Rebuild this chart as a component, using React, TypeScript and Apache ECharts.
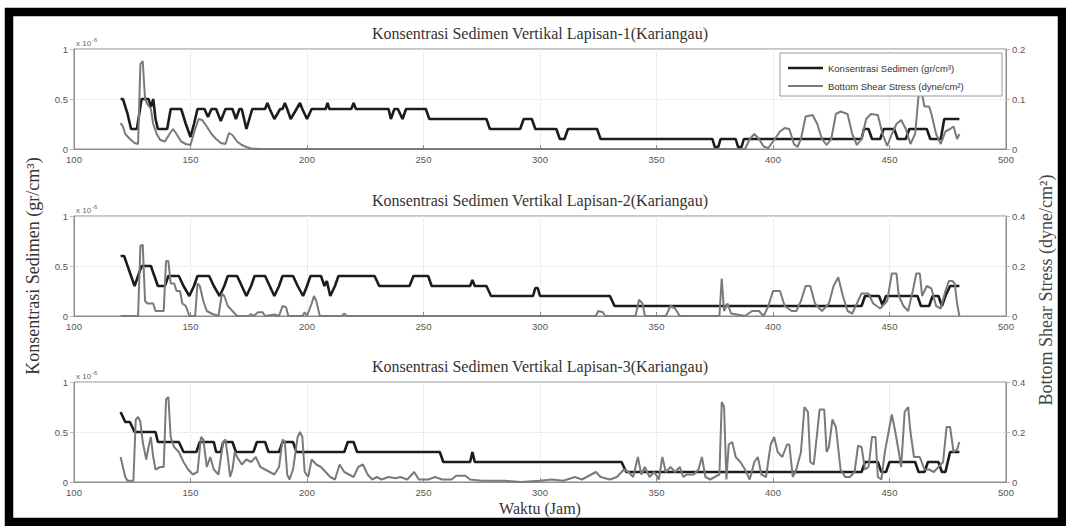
import React, { useEffect, useRef } from "react";
import * as echarts from "echarts";

const TITLES = [
  "Konsentrasi Sedimen Vertikal Lapisan-1(Kariangau)",
  "Konsentrasi Sedimen Vertikal Lapisan-2(Kariangau)",
  "Konsentrasi Sedimen Vertikal Lapisan-3(Kariangau)",
];
const SERIES_NAMES = ["Konsentrasi Sedimen (gr/cm³)", "Bottom Shear Stress (dyne/cm²)"];
const RIGHT_MAX = [0.2, 0.4, 0.4];
const RIGHT_STEP = [0.1, 0.2, 0.2];

// Concentration (x 10^-6 gr/cm3) – [hour, value]
const conc1 = [
  [120, 0.5], [121, 0.5], [123, 0.35], [124.5, 0.2], [127, 0.2], [129, 0.5], [132, 0.5], [133, 0.42], [134, 0.5],
  [135, 0.3], [136, 0.2], [140, 0.2], [141.5, 0.4], [146, 0.4], [148, 0.25], [150, 0.12], [151.5, 0.25], [153, 0.4],
  [156, 0.4], [157.5, 0.32], [159, 0.4], [161, 0.4], [163, 0.28], [165, 0.4], [168, 0.4], [169.5, 0.3], [171, 0.4],
  [172, 0.4], [174, 0.2], [176.5, 0.4], [182, 0.4], [183, 0.46], [184, 0.4], [186, 0.3], [188.5, 0.4], [189.5, 0.4],
  [190.5, 0.46], [191.5, 0.4], [193, 0.3], [195.5, 0.4], [197, 0.46], [198, 0.4], [200, 0.3], [202, 0.4], [208, 0.4],
  [208.8, 0.46], [209.6, 0.4], [219, 0.4], [220, 0.46], [221, 0.4], [235, 0.4], [236, 0.3], [237.5, 0.4], [239, 0.4],
  [241, 0.3], [242.5, 0.4], [251, 0.4], [252.5, 0.3], [277, 0.3], [278.5, 0.2], [291.5, 0.2], [293, 0.3], [296.5, 0.3],
  [298, 0.2], [307, 0.2], [308.5, 0.1], [310.5, 0.1], [312, 0.2], [324.5, 0.2], [326, 0.1], [374, 0.1], [375, 0.02],
  [376.5, 0.02], [377.5, 0.1], [384, 0.1], [385, 0.02], [386.5, 0.02], [387.5, 0.1], [438, 0.1], [439, 0.2], [441, 0.2],
  [442.5, 0.1], [446, 0.1], [447.5, 0.2], [452, 0.2], [453.5, 0.1], [457, 0.1], [458.5, 0.2], [466, 0.2], [467.5, 0.1],
  [472, 0.1], [473.5, 0.3], [480, 0.3],
];
const shear1 = [
  [120, 0.052], [121, 0.045], [122, 0.03], [124, 0.02], [126, 0.012], [127.5, 0.01], [128.5, 0.17], [129.5, 0.176],
  [130.5, 0.1], [131.5, 0.09], [133, 0.08], [134, 0.05], [135.5, 0.03], [137, 0.018], [139, 0.015], [141, 0.03],
  [142.5, 0.04], [144, 0.03], [146, 0.015], [148, 0.01], [150, 0.008], [152, 0.04], [153.5, 0.06], [155, 0.058],
  [157, 0.045], [159, 0.03], [161, 0.02], [163, 0.012], [165, 0.01], [166.5, 0.032], [168, 0.028], [170, 0.015],
  [172, 0.008], [174, 0.004], [176, 0.001], [180, 0], [388, 0], [390, 0.02], [392, 0.03], [394, 0.02], [396, 0.005],
  [398, 0.002], [400, 0.015], [403, 0.035], [405, 0.042], [407, 0.04], [409, 0.01], [410.5, 0.004], [412, 0.02],
  [414, 0.065], [417, 0.068], [419, 0.05], [421, 0.02], [423, 0.008], [425, 0.02], [427, 0.07], [429, 0.075],
  [432, 0.07], [434, 0.03], [436, 0.008], [438, 0.02], [440, 0.06], [442, 0.07], [445, 0.068], [447, 0.03],
  [449, 0.006], [451, 0.03], [453, 0.05], [455, 0.058], [457, 0.04], [459, 0.01], [461, 0.03], [462.5, 0.108],
  [464, 0.108], [465, 0.085], [467, 0.085], [468, 0.07], [470, 0.03], [472, 0.01], [474, 0.035], [476, 0.04],
  [477.5, 0.045], [479, 0.02], [480, 0.03],
];
const conc2 = [
  [120, 0.6], [121.5, 0.6], [123, 0.5], [124.5, 0.4], [126, 0.3], [127.5, 0.4], [129, 0.5], [133, 0.5], [134.5, 0.4],
  [136, 0.3], [139, 0.3], [140.5, 0.4], [145, 0.4], [147, 0.3], [149.5, 0.2], [151.5, 0.3], [153, 0.4], [158, 0.4],
  [160, 0.3], [162.5, 0.2], [164.5, 0.3], [166, 0.4], [170, 0.4], [172, 0.3], [174, 0.2], [176, 0.3], [177.5, 0.4],
  [182, 0.4], [184, 0.3], [186, 0.2], [188, 0.3], [189.5, 0.4], [194, 0.4], [196, 0.3], [198.3, 0.2], [200, 0.3],
  [201.5, 0.4], [206, 0.4], [207.5, 0.3], [208.5, 0.35], [210, 0.2], [212, 0.3], [213.5, 0.4], [229, 0.4], [231, 0.3],
  [244, 0.3], [245.7, 0.4], [252, 0.4], [253.5, 0.3], [270, 0.3], [271, 0.36], [272, 0.3], [277, 0.3], [279, 0.2],
  [297, 0.2], [298, 0.28], [299, 0.28], [300, 0.2], [330, 0.2], [332, 0.1], [438, 0.1], [439.5, 0.2], [445.5, 0.2],
  [447, 0.11], [448.5, 0.2], [462, 0.2], [463.5, 0.1], [467, 0.1], [468.5, 0.2], [471, 0.2], [472.5, 0.1], [474, 0.2],
  [476, 0.3], [480, 0.3],
];
const shear2 = [
  [120, 0], [127.5, 0], [128.5, 0.28], [129.5, 0.285], [130.5, 0.06], [131.5, 0.05], [134, 0.05], [135, 0.02],
  [138.5, 0.02], [139.5, 0.22], [140.5, 0.22], [141.5, 0.13], [143, 0.13], [144, 0.1], [145.5, 0.1], [146.5, 0.05],
  [148, 0.04], [149.5, 0], [152, 0], [153, 0.13], [154, 0.12], [155.5, 0.06], [157, 0.02], [159, 0.01], [162, 0],
  [163.5, 0.09], [164.5, 0.08], [166, 0.04], [168, 0.02], [170, 0], [175, 0], [176, 0.008], [177, 0], [179, 0.015],
  [181, 0.015], [182, 0], [186, 0.006], [188, 0], [189.5, 0.04], [191, 0.035], [192, 0], [198, 0], [199, 0.015],
  [200, 0], [202, 0.05], [203, 0.08], [204, 0.06], [205.5, 0], [215, 0], [216, 0.01], [217, 0], [324, 0], [325, 0.02],
  [327, 0.015], [328, 0], [341, 0], [342.5, 0.065], [344, 0.05], [345, 0], [354, 0], [356, 0.04], [358, 0.03],
  [360, 0], [377, 0], [378, 0.15], [379, 0.02], [380.5, 0.05], [382, 0.01], [388, 0], [391, 0.02], [394, 0.02],
  [396, 0], [398, 0.04], [400, 0.1], [403, 0.1], [405, 0.04], [408, 0.02], [410, 0.02], [412, 0.06], [414, 0.12],
  [416, 0.12], [418, 0.05], [421, 0.02], [424, 0.05], [426, 0.12], [428, 0.155], [430, 0.08], [432, 0.02], [434, 0.01],
  [436, 0.05], [438, 0.09], [441, 0.09], [443, 0.05], [446, 0.03], [449, 0.06], [451, 0.17], [453, 0.17], [454, 0.08],
  [456, 0.04], [458, 0.02], [460, 0.1], [461.5, 0.17], [463, 0.17], [464, 0.08], [466, 0.12], [468, 0.11], [470, 0.04],
  [472, 0.03], [474, 0.1], [475.5, 0.14], [477, 0.14], [478, 0.13], [479, 0.05], [480, 0],
];
const conc3 = [
  [120, 0.7], [121, 0.65], [122, 0.6], [124, 0.6], [125, 0.55], [126, 0.5], [135, 0.5], [136, 0.4], [145, 0.4],
  [147, 0.3], [152.5, 0.3], [154, 0.4], [160, 0.4], [161, 0.3], [163, 0.3], [164, 0.4], [168, 0.4], [169.5, 0.3],
  [177, 0.3], [178.5, 0.4], [182, 0.4], [183.5, 0.3], [188, 0.3], [189.5, 0.4], [194, 0.4], [195.5, 0.3], [216, 0.3],
  [217.5, 0.4], [220, 0.4], [221.5, 0.3], [257, 0.3], [258.5, 0.2], [270, 0.2], [271, 0.3], [272, 0.2], [335, 0.2],
  [337, 0.1], [438, 0.1], [439.5, 0.2], [445, 0.2], [446.5, 0.1], [448.5, 0.1], [450, 0.2], [461, 0.2], [462.5, 0.1],
  [465, 0.1], [466.5, 0.2], [471, 0.2], [472.5, 0.1], [474, 0.1], [476, 0.3], [480, 0.3],
];
const shear3 = [
  [120, 0.1], [121, 0.06], [122, 0.02], [123, 0.005], [125.5, 0.005], [126.5, 0.25], [127.5, 0.26], [128.5, 0.24],
  [129.5, 0.16], [131, 0.09], [132, 0.14], [133, 0.18], [134, 0.1], [135, 0.05], [137, 0.06], [138.5, 0.06],
  [139.5, 0.33], [140.5, 0.34], [141.5, 0.18], [143, 0.14], [145, 0.12], [147, 0.08], [149, 0.05], [151, 0.03],
  [153, 0.04], [154.5, 0.18], [155.5, 0.17], [157, 0.06], [158.5, 0.1], [160, 0.05], [162, 0.03], [164, 0.16],
  [165, 0.17], [166, 0.1], [167, 0.02], [168, 0.05], [169, 0.12], [170, 0.1], [172, 0.07], [174, 0.09], [176, 0.08],
  [178, 0.1], [180, 0.06], [182, 0.05], [184, 0.04], [186, 0.03], [188, 0.06], [189.5, 0.17], [190.5, 0.16],
  [191.5, 0.03], [192.5, 0.01], [194, 0.05], [196, 0.18], [197, 0.2], [198, 0.18], [199, 0.04], [200.5, 0.02],
  [202, 0.09], [204, 0.07], [206, 0.06], [208, 0.04], [210, 0.02], [212, 0.01], [214, 0.07], [216, 0.04], [218, 0.03],
  [220, 0.02], [222, 0.06], [224, 0.07], [226, 0.03], [228, 0.01], [230, 0.02], [232, 0.01], [235, 0.02],
  [238, 0.015], [240, 0.02], [243, 0.01], [246, 0.04], [248, 0.01], [252, 0.01], [255, 0.02], [258, 0.01],
  [262, 0.01], [264, 0.025], [268, 0.025], [270, 0.01], [275, 0.005], [285, 0.005], [292, 0], [300, 0.005],
  [305, 0.01], [310, 0.005], [315, 0.02], [318, 0.01], [322, 0.03], [324, 0.04], [326, 0.02], [330, 0.01],
  [333, 0.02], [336, 0.05], [338, 0.04], [340, 0.02], [342, 0.1], [343.5, 0.03], [345, 0.06], [347, 0.02],
  [349, 0.04], [351, 0.01], [352.5, 0.1], [354, 0.04], [356, 0.06], [358, 0.04], [360, 0.06], [361.5, 0.02],
  [363, 0.03], [366, 0.03], [368, 0.05], [369.5, 0.1], [371, 0.02], [373, 0.01], [375, 0.02], [377, 0.03],
  [378, 0.32], [379, 0.3], [380, 0.01], [381, 0.15], [382.5, 0.16], [384, 0.1], [386, 0.08], [388, 0.05], [390, 0.01],
  [392, 0.08], [393.5, 0.1], [395, 0.03], [397, 0.02], [399, 0.15], [400.5, 0.18], [402, 0.12], [404, 0.1],
  [406, 0.15], [407, 0.15], [408.5, 0.02], [410, 0.05], [412, 0.12], [413.5, 0.3], [415, 0.28], [416, 0.08],
  [417.5, 0.07], [419, 0.2], [420, 0.29], [422, 0.29], [423, 0.12], [424, 0.14], [425.5, 0.25], [427, 0.22],
  [429, 0.05], [431, 0.02], [433, 0.02], [435, 0.04], [436.5, 0.145], [438, 0.14], [439.5, 0.05], [441, 0.06],
  [442.5, 0.18], [444, 0.18], [445, 0.02], [446.5, 0.01], [448, 0.12], [450, 0.22], [451, 0.27], [452.5, 0.2],
  [454, 0.12], [455, 0.06], [456.5, 0.28], [458, 0.3], [459, 0.2], [460.5, 0.1], [463, 0.1], [465, 0.05], [467, 0.05],
  [469, 0.04], [471, 0.06], [473, 0.08], [474.5, 0.22], [476, 0.22], [477.5, 0.12], [479, 0.13], [480, 0.16],
];

const CONC = [conc1, conc2, conc3];
const SHEAR = [shear1, shear2, shear3];

const GRID_TOPS = [49, 216, 382];
const GRID_H = 100;
const GRID_LEFT = 74;
const GRID_W = 932;

export default function App() {
  const ref = useRef<HTMLDivElement>(null);
  useEffect(() => {
    if (!ref.current) return;
    const chart = echarts.init(ref.current, null, { renderer: "svg" });
    const axisColor = "#8c8c8c";
    const labelStyle = { color: "#555", fontSize: 9.5, fontFamily: "Liberation Sans" };
    const grids: any[] = [];
    const xAxes: any[] = [];
    const yAxes: any[] = [];
    const series: any[] = [];
    for (let i = 0; i < 3; i++) {
      grids.push({
        left: GRID_LEFT, top: GRID_TOPS[i], width: GRID_W, height: GRID_H,
        show: true, borderColor: axisColor, borderWidth: 1, backgroundColor: "#fff",
      });
      xAxes.push({
        type: "value", gridIndex: i, min: 100, max: 500, interval: 50,
        axisLine: { show: true, lineStyle: { color: axisColor } },
        axisTick: { show: true, inside: true, length: 4, lineStyle: { color: axisColor } },
        axisLabel: { ...labelStyle, margin: 5 },
        splitLine: { show: true, lineStyle: { color: "#dcdcdc", type: "dotted", width: 1 } },
      });
      yAxes.push({
        type: "value", gridIndex: i, min: 0, max: 1, interval: 0.5, position: "left",
        axisLine: { show: true, lineStyle: { color: axisColor } },
        axisTick: { show: true, inside: false, length: 4, lineStyle: { color: "#bbb" } },
        axisLabel: { ...labelStyle, margin: 6 },
        splitLine: { show: true, lineStyle: { color: "#dcdcdc", type: "dotted", width: 1 } },
      });
      yAxes.push({
        type: "value", gridIndex: i, min: 0, max: RIGHT_MAX[i], interval: RIGHT_STEP[i], position: "right",
        axisLine: { show: true, lineStyle: { color: axisColor } },
        axisTick: { show: true, inside: false, length: 4, lineStyle: { color: "#bbb" } },
        axisLabel: { ...labelStyle, margin: 6 },
        splitLine: { show: false },
      });
      series.push({
        name: SERIES_NAMES[0], type: "line", xAxisIndex: i, yAxisIndex: i * 2,
        data: CONC[i], showSymbol: false, symbol: "none",
        lineStyle: { color: "#1c1c1c", width: 2.6 }, z: 3,
      });
      series.push({
        name: SERIES_NAMES[1], type: "line", xAxisIndex: i, yAxisIndex: i * 2 + 1,
        data: SHEAR[i], showSymbol: false, symbol: "none",
        lineStyle: { color: "#7a7a7a", width: 2 }, z: 4,
      });
    }

    const serif = "Liberation Serif";
    const graphic: any[] = [];
    for (let i = 0; i < 3; i++) {
      graphic.push({
        type: "text", x: GRID_LEFT + GRID_W / 2, y: GRID_TOPS[i] - 16, z: 10,
        style: { text: TITLES[i], fontFamily: serif, fontSize: 16, fill: "#333", align: "center", verticalAlign: "middle" },
      });
      graphic.push({
        type: "text", x: GRID_LEFT + 2, y: GRID_TOPS[i] - 6, z: 10,
        style: {
          text: "{a|x 10}{b|-6}",
          rich: {
            a: { fontSize: 8, fill: "#666", fontFamily: "Liberation Sans" },
            b: { fontSize: 6, fill: "#666", fontFamily: "Liberation Sans", verticalAlign: "top", padding: [0, 0, 6, 1] },
          },
          verticalAlign: "middle",
        },
      });
    }
    graphic.push({
      type: "text", x: 33, y: 266, rotation: Math.PI / 2, z: 10,
      style: { text: "Konsentrasi Sedimen (gr/cm³)", fontFamily: serif, fontSize: 18, fill: "#333", align: "center", verticalAlign: "middle" },
    });
    graphic.push({
      type: "text", x: 1046, y: 290, rotation: Math.PI / 2, z: 10,
      style: { text: "Bottom Shear Stress (dyne/cm²)", fontFamily: serif, fontSize: 18, fill: "#444", align: "center", verticalAlign: "middle" },
    });
    graphic.push({
      type: "text", x: 540, y: 508, z: 10,
      style: { text: "Waktu (Jam)", fontFamily: serif, fontSize: 16, fill: "#333", align: "center", verticalAlign: "middle" },
    });
    // legend
    graphic.push({
      type: "rect", shape: { x: 780, y: 53, width: 222, height: 43 }, z: 20,
      style: { fill: "#fff", stroke: "#9a9a9a", lineWidth: 1 },
    });
    graphic.push({ type: "line", shape: { x1: 788, y1: 68, x2: 823, y2: 68 }, z: 21, style: { stroke: "#1c1c1c", lineWidth: 2.6 } });
    graphic.push({ type: "line", shape: { x1: 788, y1: 86, x2: 823, y2: 86 }, z: 21, style: { stroke: "#7a7a7a", lineWidth: 2 } });
    graphic.push({
      type: "text", x: 828, y: 68, z: 21,
      style: { text: SERIES_NAMES[0], fontFamily: "Liberation Sans", fontSize: 9.5, fill: "#333", verticalAlign: "middle" },
    });
    graphic.push({
      type: "text", x: 828, y: 86, z: 21,
      style: { text: SERIES_NAMES[1], fontFamily: "Liberation Sans", fontSize: 9.5, fill: "#333", verticalAlign: "middle" },
    });
    // outer frame
    graphic.push({
      type: "rect", shape: { x: 9, y: 12, width: 1053, height: 510 }, z: 30,
      style: { fill: "none", stroke: "#000", lineWidth: 8.5 },
    });

    chart.setOption({
      animation: false,
      backgroundColor: "#fff",
      grid: grids,
      xAxis: xAxes,
      yAxis: yAxes,
      series,
      graphic,
    });
    return () => chart.dispose();
  }, []);
  return <div ref={ref} style={{ position: "fixed", left: 0, top: 0, width: 1066, height: 526 }} />;
}
